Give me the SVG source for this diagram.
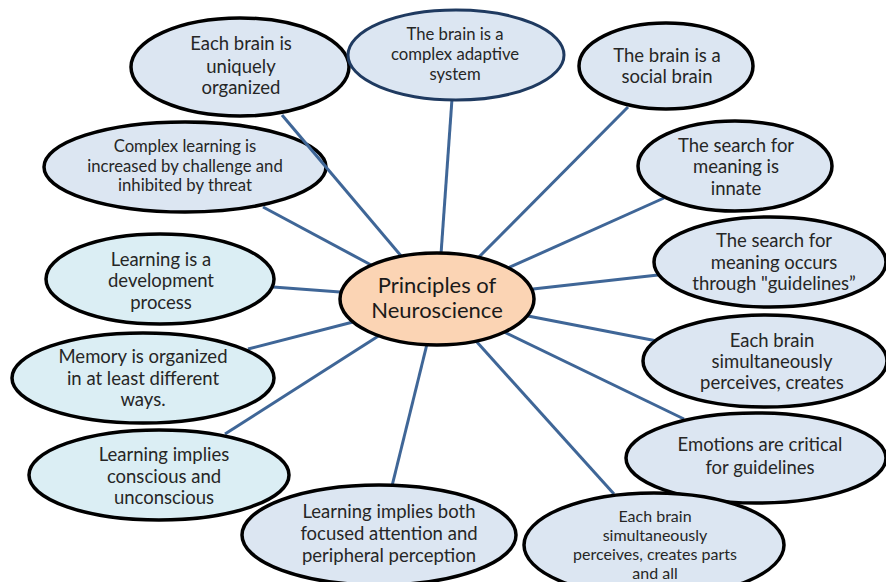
<svg xmlns="http://www.w3.org/2000/svg" width="886" height="582" viewBox="0 0 886 582">
  <style>
    .node { fill: #DCE6F2; stroke: #000; stroke-width: 3.5; }
    .cyan { fill: #DBEEF4; }
    .hub { fill: #FBD4B4; stroke: #000; stroke-width: 3.5; }
    .navy { stroke: #1F3A60; stroke-width: 3; }
    .link { stroke: #3F6697; stroke-width: 3; fill: none; stroke-linecap: butt; }
    text { font-family: Lato, "Open Sans", sans-serif; fill: #262626; text-anchor: middle; font-size: 18.5px; }
    .sm { font-size: 16.7px; }
    .xs { font-size: 16px; }
    .big { font-size: 22px; fill: #1a1a1a; }
  </style>
  <rect width="886" height="582" fill="#fff"/>

  <!-- drawn first so that the connector from the top-left node passes over it -->
  <g id="n-complex-learning">
    <ellipse class="node" cx="185" cy="167" rx="141" ry="45"/>
    <text class="sm" x="185" y="152">Complex learning is</text>
    <text class="sm" x="185" y="172">increased by challenge and</text>
    <text class="sm" x="185" y="191">inhibited by threat</text>
  </g>

  <g id="connectors">
    <line class="link" x1="282" y1="115" x2="402" y2="257"/>
    <line class="link" x1="263" y1="207" x2="373" y2="266"/>
    <line class="link" x1="273" y1="287" x2="340" y2="292"/>
    <line class="link" x1="452" y1="99" x2="441" y2="254"/>
    <line class="link" x1="628" y1="107" x2="478" y2="258"/>
    <line class="link" x1="664" y1="198" x2="508" y2="268"/>
    <line class="link" x1="658" y1="275" x2="533" y2="289"/>
    <line class="link" x1="657" y1="341" x2="528" y2="316"/>
    <line class="link" x1="684" y1="419" x2="504" y2="332"/>
    <line class="link" x1="614" y1="494" x2="476" y2="341"/>
    <line class="link" x1="392" y1="486" x2="427" y2="344"/>
    <line class="link" x1="225" y1="434" x2="380" y2="335"/>
    <line class="link" x1="248" y1="349" x2="353" y2="322"/>
  </g>

  <g id="n-hub">
    <ellipse class="hub" cx="437" cy="299" rx="97" ry="46"/>
    <text class="big" x="437" y="293">Principles of</text>
    <text class="big" x="437" y="318">Neuroscience</text>
  </g>

  <g id="n-uniquely-organized">
    <ellipse class="node" cx="240" cy="67" rx="109" ry="49"/>
    <text x="241" y="50">Each brain is</text>
    <text x="241" y="73">uniquely</text>
    <text x="241" y="94">organized</text>
  </g>

  <g id="n-complex-adaptive">
    <ellipse class="node navy" cx="456" cy="55" rx="108" ry="45"/>
    <text class="sm" x="455" y="40">The brain is a</text>
    <text class="sm" x="455" y="60">complex adaptive</text>
    <text class="sm" x="455" y="80">system</text>
  </g>

  <g id="n-social-brain">
    <ellipse class="node" cx="666" cy="66" rx="87" ry="43"/>
    <text x="667" y="62">The brain is a</text>
    <text x="667" y="83">social brain</text>
  </g>

  <g id="n-meaning-innate">
    <ellipse class="node" cx="735" cy="166" rx="97" ry="45"/>
    <text x="736" y="152">The search for</text>
    <text x="736" y="173">meaning is</text>
    <text x="736" y="195">innate</text>
  </g>

  <g id="n-meaning-guidelines">
    <ellipse class="node" cx="770" cy="262" rx="116" ry="45"/>
    <text x="774" y="247">The search for</text>
    <text x="774" y="269">meaning occurs</text>
    <text x="774" y="290">through "guidelines”</text>
  </g>

  <g id="n-perceives-creates">
    <ellipse class="node" cx="765" cy="361" rx="122" ry="46"/>
    <text x="772" y="347">Each brain</text>
    <text x="772" y="368">simultaneously</text>
    <text x="772" y="389">perceives, creates</text>
  </g>

  <g id="n-emotions">
    <ellipse class="node" cx="756" cy="458" rx="130" ry="45"/>
    <text x="760" y="451">Emotions are critical</text>
    <text x="760" y="474">for guidelines</text>
  </g>

  <g id="n-parts-and-all">
    <ellipse class="node" cx="654" cy="545" rx="130" ry="52"/>
    <text class="xs" x="655" y="522">Each brain</text>
    <text class="xs" x="655" y="541">simultaneously</text>
    <text class="xs" x="655" y="560">perceives, creates parts</text>
    <text class="xs" x="655" y="579">and all</text>
  </g>

  <g id="n-focused-peripheral">
    <ellipse class="node" cx="379" cy="535" rx="137" ry="50"/>
    <text x="389" y="518">Learning implies both</text>
    <text x="389" y="540">focused attention and</text>
    <text x="389" y="562">peripheral perception</text>
  </g>

  <g id="n-conscious">
    <ellipse class="node cyan" cx="159" cy="475" rx="130" ry="45"/>
    <text x="164" y="461">Learning implies</text>
    <text x="164" y="483">conscious and</text>
    <text x="164" y="504">unconscious</text>
  </g>

  <g id="n-memory">
    <ellipse class="node cyan" cx="143" cy="378" rx="131" ry="45"/>
    <text x="143" y="363">Memory is organized</text>
    <text x="143" y="385">in at least different</text>
    <text x="143" y="406">ways.</text>
  </g>

  <g id="n-development">
    <ellipse class="node cyan" cx="160" cy="279" rx="114" ry="45"/>
    <text x="161" y="266">Learning is a</text>
    <text x="161" y="287">development</text>
    <text x="161" y="309">process</text>
  </g>
</svg>
